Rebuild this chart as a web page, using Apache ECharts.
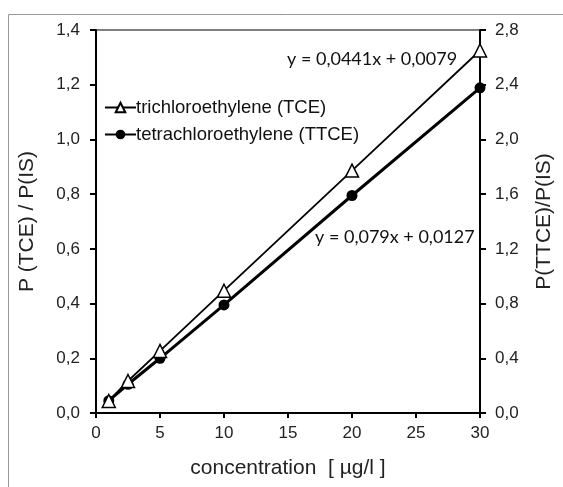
<!DOCTYPE html>
<html><head><meta charset="utf-8">
<script src="https://cdn.jsdelivr.net/npm/echarts@6/dist/echarts.min.js"></script>
<style>html,body{margin:0;padding:0;background:#fff}#c{width:563px;height:487px}</style>
</head><body><div id="c"></div>
<script>
const concentration = [1, 2.5, 5, 10, 20, 30];
const tceValues = [0.044, 0.117, 0.227, 0.447, 0.886, 1.325];
const ttceValues = [0.09, 0.21, 0.40, 0.79, 1.59, 2.377];
const seriesNames = ['trichloroethylene (TCE)', 'tetrachloroethylene (TTCE)'];
const equations = ['y = 0,0441x + 0,0079', 'y = 0,079x + 0,0127'];

const fmt = v => v.toFixed(1).replace('.', ',');
const chart = echarts.init(document.getElementById('c'), null, {renderer: 'canvas'});
const axisFont = {fontFamily: 'Liberation Sans', fontSize: 17, color: '#222'};
const tick = {show: true, length: 6, lineStyle: {color: '#000', width: 2}};
chart.setOption({
  animation: false,
  backgroundColor: '#fff',
  grid: {left: 96, right: 80, top: 30, bottom: 74, show: true, borderColor: '#000', borderWidth: 1.2},
  legend: {
    orient: 'vertical', left: 99, top: 93, itemWidth: 31, itemHeight: 12, itemGap: 8,
    textStyle: {fontFamily: 'Liberation Sans', fontSize: 18.5, color: '#111', padding: [0, 0, 0, -5]},
    data: seriesNames
  },
  xAxis: {
    type: 'value', min: 0, max: 30, interval: 5,
    name: 'concentration  [ µg/l ]', nameLocation: 'middle', nameGap: 45,
    nameTextStyle: {fontFamily: 'Liberation Sans', fontSize: 21, color: '#222'},
    axisLine: {lineStyle: {color: '#000', width: 2}},
    axisTick: Object.assign({}, tick, {length: 5}),
    axisLabel: Object.assign({margin: 12}, axisFont),
    splitLine: {show: false}
  },
  yAxis: [{
    type: 'value', min: 0, max: 1.4, interval: 0.2, position: 'left',
    name: 'P (TCE) / P(IS)', nameLocation: 'middle', nameGap: 58, nameRotate: 90,
    nameTextStyle: {fontFamily: 'Liberation Sans', fontSize: 21, color: '#222'},
    axisLine: {show: true, lineStyle: {color: '#000', width: 2}},
    axisTick: tick,
    axisLabel: Object.assign({margin: 16, formatter: fmt}, axisFont),
    splitLine: {show: false}
  }, {
    type: 'value', min: 0, max: 2.8, interval: 0.4, position: 'right',
    name: 'P(TTCE)/P(IS)', nameLocation: 'middle', nameGap: 54, nameRotate: 90,
    nameTextStyle: {fontFamily: 'Liberation Sans', fontSize: 21, color: '#222'},
    axisLine: {show: true, lineStyle: {color: '#000', width: 2}},
    axisTick: tick,
    axisLabel: Object.assign({margin: 15, formatter: fmt}, axisFont),
    splitLine: {show: false}
  }],
  series: [{
    name: seriesNames[0], type: 'line', yAxisIndex: 0,
    data: concentration.map((x, i) => [x, tceValues[i]]),
    symbol: 'triangle', symbolSize: 13, showAllSymbol: true,
    lineStyle: {color: '#000', width: 1.8},
    itemStyle: {color: '#fff', borderColor: '#000', borderWidth: 1.5},
    z: 3
  }, {
    name: seriesNames[1], type: 'line', yAxisIndex: 1,
    data: concentration.map((x, i) => [x, ttceValues[i]]),
    symbol: 'circle', symbolSize: 11, showAllSymbol: true,
    lineStyle: {color: '#000', width: 3},
    itemStyle: {color: '#000', borderColor: '#000', borderWidth: 0},
    z: 2
  }],
  graphic: [
    {type: 'rect', shape: {x: 8.5, y: 14.5, width: 600, height: 600}, style: {fill: null, stroke: '#999', lineWidth: 1}, silent: true, z: -1},
    {type: 'text', left: 287, top: 50, style: {text: equations[0], font: '18px Lato', fill: '#111'}},
    {type: 'text', left: 315, top: 228, style: {text: equations[1], font: '18px Lato', fill: '#111'}}
  ]
});
</script></body></html>
